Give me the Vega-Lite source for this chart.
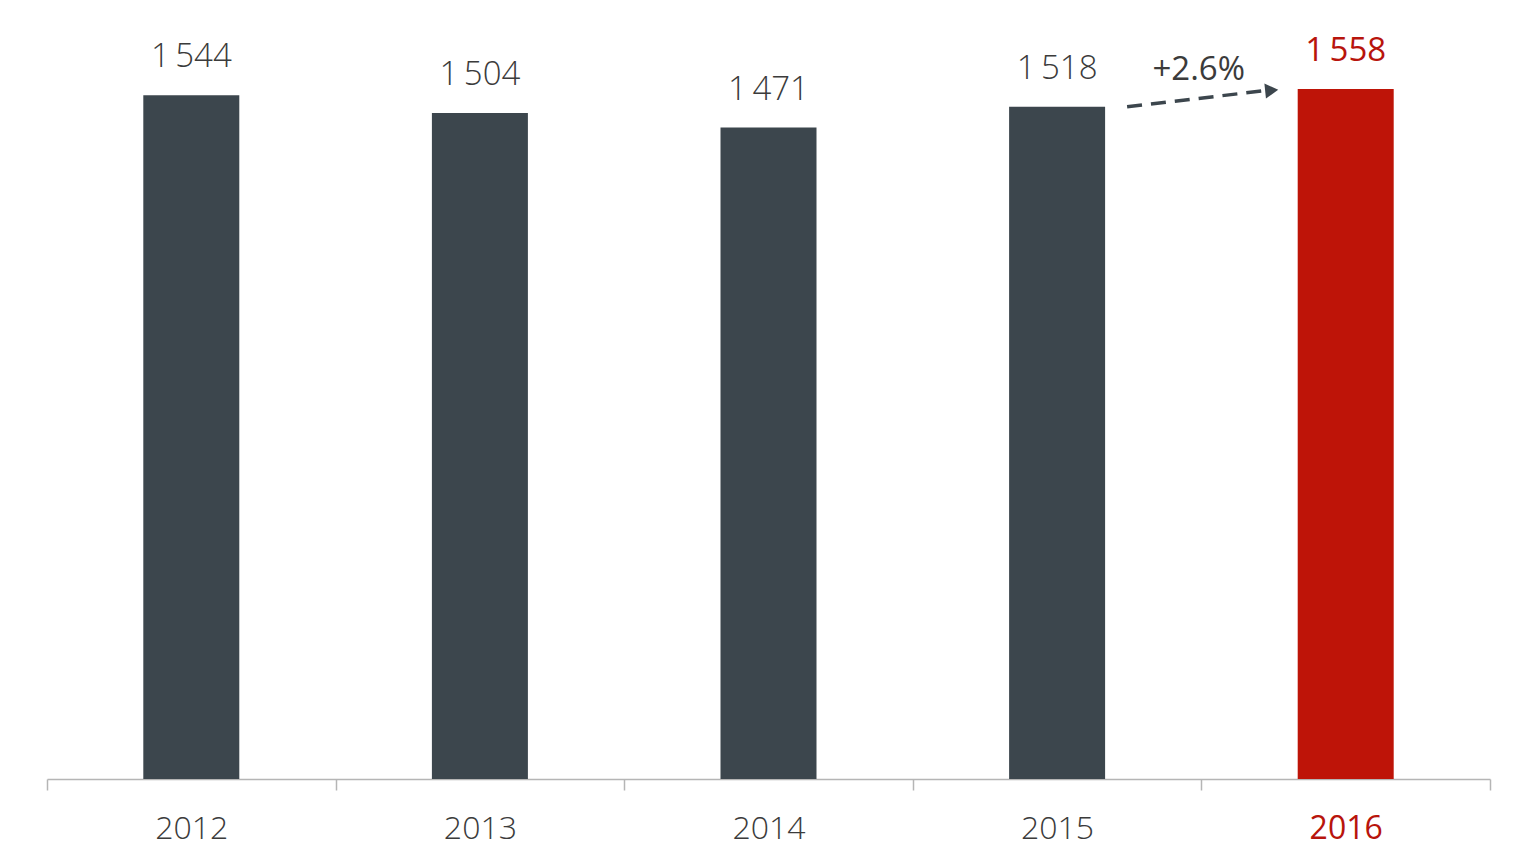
{
  "$schema": "https://vega.github.io/schema/vega-lite/v6.json",
  "width": 1443,
  "height": 779,
  "autosize": "none",
  "padding": {"left": 47, "top": 0, "right": 46, "bottom": 85},
  "background": "white",
  "config": {
    "view": {"stroke": null},
    "font": "Open Sans",
    "locale": {"number": {"decimal": ".", "thousands": "\u2009", "grouping": [3], "currency": ["", ""]}}
  },
  "datasets": {
    "bars": [
      {"year": "2012", "value": 1544},
      {"year": "2013", "value": 1504},
      {"year": "2014", "value": 1471},
      {"year": "2015", "value": 1518},
      {"year": "2016", "value": 1558}
    ],
    "change": [
      {"from": "2015", "to": "2016", "start": 1518, "end": 1555, "label": "+2.6%"}
    ]
  },
  "encoding": {
    "x": {
      "field": "year", "type": "nominal", "sort": null,
      "scale": {"domain": ["2012", "2013", "2014", "2015", "2016"], "paddingInner": 0, "paddingOuter": 0},
      "axis": {
        "title": null,
        "labelAngle": 0,
        "tickBand": "extent",
        "tickSize": 11,
        "tickColor": "#b5b5b5",
        "tickWidth": 1.5,
        "domainColor": "#b5b5b5",
        "domainWidth": 1.5,
        "labelFontSize": 32,
        "labelFontWeight": {"condition": {"test": "datum.value == '2016'", "value": 400}, "value": 300},
        "labelPadding": 23,
        "labelColor": {"condition": {"test": "datum.value == '2016'", "value": "#b8140c"}, "value": "#3b3b3b"},
        "labelFont": "Open Sans"
      }
    }
  },
  "layer": [
    {
      "data": {"name": "bars"},
      "mark": {"type": "bar", "width": 96},
      "encoding": {
        "y": {"field": "value", "type": "quantitative", "scale": {"domain": [0, 1759], "nice": false}, "axis": null},
        "color": {"condition": {"test": "datum.year == '2016'", "value": "#be1408"}, "value": "#3c464d"}
      }
    },
    {
      "data": {"name": "bars"},
      "mark": {"type": "text", "baseline": "alphabetic", "dy": -28, "fontSize": 33, "fontWeight": {"expr": "datum.year == '2016' ? 400 : 300"}},
      "encoding": {
        "y": {"field": "value", "type": "quantitative"},
        "text": {"field": "value", "type": "quantitative", "format": ",d"},
        "color": {"condition": {"test": "datum.year == '2016'", "value": "#b8140c"}, "value": "#3b3b3b"}
      }
    },
    {
      "data": {"name": "change"},
      "mark": {"type": "rule", "strokeDash": [15, 9], "strokeWidth": 3.5, "color": "#3c464d", "xOffset": 70, "x2Offset": -78},
      "encoding": {
        "x": {"field": "from", "type": "nominal"},
        "x2": {"field": "to"},
        "y": {"field": "start", "type": "quantitative"},
        "y2": {"field": "end"}
      }
    },
    {
      "data": {"name": "change"},
      "mark": {"type": "point", "shape": "triangle-right", "filled": true, "opacity": 1, "size": 230, "angle": -6, "color": "#3c464d", "xOffset": -74},
      "encoding": {
        "x": {"field": "to", "type": "nominal"},
        "y": {"field": "end", "type": "quantitative"}
      }
    },
    {
      "data": {"name": "change"},
      "mark": {"type": "text", "baseline": "alphabetic", "dy": -10, "xOffset": -147, "fontSize": 33, "fontWeight": 400, "color": "#3b3b3b"},
      "encoding": {
        "x": {"field": "to", "type": "nominal"},
        "y": {"field": "end", "type": "quantitative"},
        "text": {"field": "label"}
      }
    }
  ]
}
